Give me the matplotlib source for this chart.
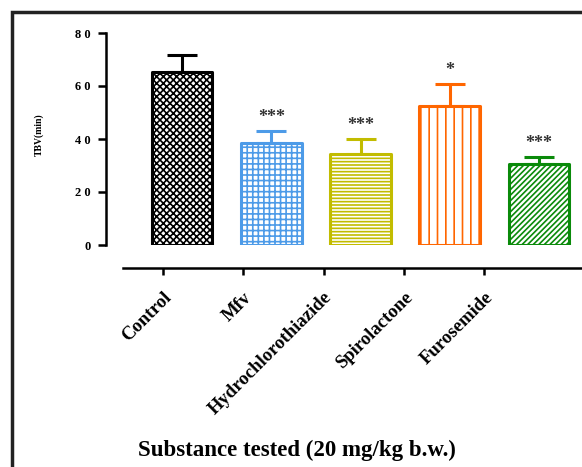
import matplotlib.pyplot as plt
import matplotlib.patches as mpatches
import numpy as np

plt.rcParams['font.family'] = ['Liberation Serif', 'DejaVu Serif']
plt.rcParams['hatch.linewidth'] = 1.2

groups = ["Control", "Mfv", "Hydrochlorothiazide", "Spirolactone", "Furosemide"]
means = [65.3, 38.5, 34.3, 52.5, 30.5]
errs = [6.4, 4.5, 5.7, 8.2, 2.7]
stars = ["", "***", "***", "*", "***"]
colors = ["black", "#4d9be8", "#c2bc00", "#ff6600", "#0a8a0a"]
hatches = ["xxxxx", "+++", "-----", "||", "//////"]

fig = plt.figure(figsize=(5.82, 4.67), dpi=100)

# outer frame (runs off the right and bottom edges)
frame = mpatches.Rectangle((12/582, -0.2), 1.2, (467-12)/467 + 0.2,
                           transform=fig.transFigure, fill=False,
                           edgecolor="#222222", linewidth=2.5)
fig.patches.append(frame)

ax = fig.add_axes([106/582, (467-245)/467, (582-106)/582, 212/467])
x = np.arange(len(groups))
bars = ax.bar(x, means, width=0.68, color="white", edgecolor=colors,
              linewidth=2.2, zorder=2)
for b, h in zip(bars, hatches):
    b.set_hatch(h)
    b.set_joinstyle("round")

for i in range(len(groups)):
    ax.errorbar(x[i], means[i], yerr=[[0], [errs[i]]], fmt="none",
                ecolor=colors[i], elinewidth=2.2, capsize=11, capthick=2.2,
                zorder=1)
    if stars[i]:
        ax.text(x[i], means[i] + errs[i] + 2.0, stars[i], ha="center",
                va="bottom", fontsize=13, fontweight="bold", color="#333333")

ax.set_xlim(-0.852, 4.481)
ax.set_ylim(0, 80)
ax.set_yticks([0, 20, 40, 60, 80])
ax.set_yticklabels(["0", "2 0", "4 0", "6 0", "8 0"])
for s in ["top", "right", "bottom"]:
    ax.spines[s].set_visible(False)
ax.spines["left"].set_linewidth(1.8)
ax.tick_params(axis="y", length=6, width=1.8, labelsize=9, pad=5)
for t in ax.get_yticklabels():
    t.set_fontweight("bold")
ax.set_xticks([])
ax.patch.set_alpha(0)
ax.set_ylabel("TBV(min)", fontsize=7, fontweight="bold", labelpad=18)
ax.yaxis.set_label_coords(-0.13, 0.52)

# separate category axis below the bars
ax2 = fig.add_axes([123/582, (467-268)/467, (582-123)/582, 0.001])
ax2.set_xlim(-0.498, 5.22)
ax2.set_xticks(x)
ax2.set_xticklabels(groups, rotation=45, ha="right", rotation_mode="anchor",
                    fontsize=13.5, fontweight="bold")
ax2.set_yticks([])
for s in ["top", "right", "left"]:
    ax2.spines[s].set_visible(False)
ax2.spines["bottom"].set_linewidth(1.8)
ax2.tick_params(axis="x", length=5, width=1.8, pad=10)
ax2.patch.set_alpha(0)

fig.text(297/582, 1 - 450/467, "Substance tested (20 mg/kg b.w.)",
         ha="center", va="center", fontsize=16.5, fontweight="bold")

fig.savefig("out.png", dpi=100)
